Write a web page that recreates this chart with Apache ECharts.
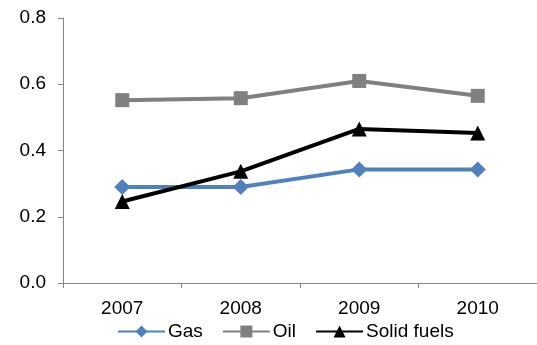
<!DOCTYPE html>
<html><head><meta charset="utf-8">
<script src="https://cdn.jsdelivr.net/npm/echarts@6/dist/echarts.min.js"></script>
<style>html,body{margin:0;padding:0;background:#fff}#c{width:537px;height:345px}</style>
</head><body><div id="c"></div>
<script>
var categories = ['2007', '2008', '2009', '2010'];
var gas = [0.290, 0.290, 0.343, 0.343];
var oil = [0.552, 0.558, 0.610, 0.565];
var solid = [0.246, 0.337, 0.465, 0.453];
var yTicks = [0, 0.2, 0.4, 0.6, 0.8];

var font = 'Liberation Sans, Arial, sans-serif';
var chart = echarts.init(document.getElementById('c'), null, {renderer: 'canvas'});
chart.setOption({
  animation: false,
  grid: {left: 63, top: 18, width: 479, height: 265, containLabel: false},
  legend: {
    top: 322, left: 117, padding: 0, itemWidth: 47, itemHeight: 15, itemGap: 19,
    textStyle: {fontFamily: font, fontSize: 19, color: '#000', padding: [0, 0, 0, -2]},
    data: ['Gas', 'Oil', 'Solid fuels']
  },
  xAxis: {
    type: 'category', data: categories, boundaryGap: true,
    axisLine: {lineStyle: {color: '#868686', width: 1}},
    axisTick: {show: true, length: 5, lineStyle: {color: '#868686'}},
    axisLabel: {fontFamily: font, fontSize: 19, color: '#000', margin: 16}
  },
  yAxis: {
    type: 'value', min: 0, max: 0.8, interval: 0.2,
    axisLine: {show: true, lineStyle: {color: '#868686', width: 1}},
    axisTick: {show: true, inside: false, length: 5, lineStyle: {color: '#868686'}},
    splitLine: {show: false},
    axisLabel: {fontFamily: font, fontSize: 19, color: '#000', margin: 17,
      formatter: function (v) { return v.toFixed(1); }}
  },
  series: [
    {name: 'Gas', type: 'line', data: gas, symbol: 'diamond', symbolSize: 16,
     lineStyle: {color: '#4F81BD', width: 4}, itemStyle: {color: '#4F81BD'}},
    {name: 'Oil', type: 'line', data: oil, symbol: 'rect', symbolSize: 14,
     lineStyle: {color: '#808080', width: 4}, itemStyle: {color: '#808080'}},
    {name: 'Solid fuels', type: 'line', data: solid, symbol: 'triangle', symbolSize: 15,
     lineStyle: {color: '#000000', width: 4}, itemStyle: {color: '#000000'}}
  ]
});
</script></body></html>
